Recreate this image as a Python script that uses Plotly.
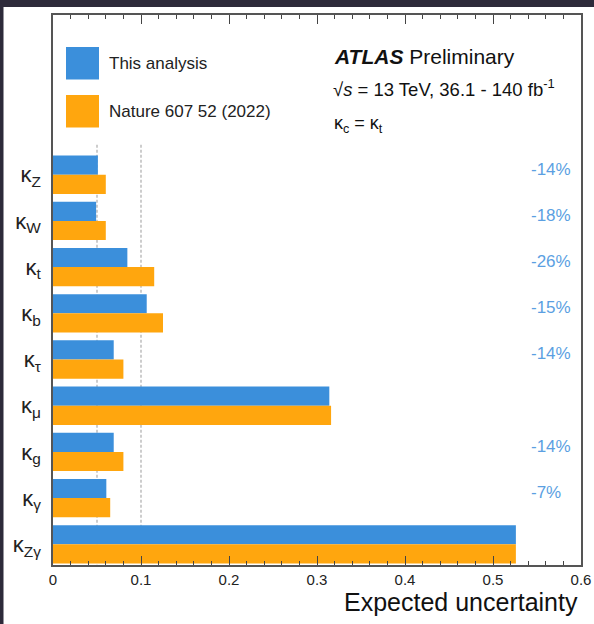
import plotly.graph_objects as go

# couplings, top to bottom
labels = ["κ<sub>Z</sub>", "κ<sub>W</sub>", "κ<sub>t</sub>", "κ<sub>b</sub>", "κ<sub>τ</sub>",
          "κ<sub>μ</sub>", "κ<sub>g</sub>", "κ<sub>γ</sub>", "κ<sub>Zγ</sub>"]
this_analysis = [0.051, 0.049, 0.0845, 0.1065, 0.069, 0.314, 0.069, 0.0606, 0.526]
nature_2022 = [0.060, 0.060, 0.115, 0.125, 0.080, 0.316, 0.080, 0.065, 0.526]
improvement = ["-14%", "-18%", "-26%", "-15%", "-14%", "", "-14%", "-7%", ""]
ref_lines = [0.05, 0.1]

BLUE = "#3b8fdb"
ORANGE = "#ffa60e"
FONT = "Liberation Sans, Arial, sans-serif"

pos = list(range(len(labels)))

fig = go.Figure()
fig.add_trace(go.Bar(y=pos, x=this_analysis, orientation="h", name="This analysis",
                     marker=dict(color=BLUE, line=dict(width=0))))
fig.add_trace(go.Bar(y=pos, x=nature_2022, orientation="h", name="Nature 607 52 (2022)",
                     marker=dict(color=ORANGE, line=dict(width=0))))

# dashed reference lines
for v in ref_lines:
    fig.add_shape(type="line", xref="x", yref="y", x0=v, x1=v, y0=-0.65, y1=8.45,
                  line=dict(color="#bdbdbd", width=1.5, dash="3px,2px"), layer="below")

# relative improvement labels
for i, t in enumerate(improvement):
    if t:
        fig.add_annotation(x=0.541, y=i - 0.12, xref="x", yref="y", text=t, showarrow=False,
                           xanchor="left", yanchor="middle",
                           font=dict(family=FONT, size=17, color="#5b9fe2"))


def px(x):
    return (x - 53) / 528


def py(y):
    return (565 - y) / 550


def note(x, y, text, size, **kw):
    fig.add_annotation(x=px(x), y=py(y), xref="paper", yref="paper", text=text,
                       showarrow=False, xanchor=kw.get("xanchor", "left"), yanchor="middle",
                       font=dict(family=FONT, size=size, color=kw.get("color", "#111")))


# legend built by hand
for (y0, y1), col, name in [((47, 79.5), BLUE, "This analysis"),
                            ((95, 127.5), ORANGE, "Nature 607 52 (2022)")]:
    fig.add_shape(type="rect", xref="paper", yref="paper", x0=px(66), x1=px(99),
                  y0=py(y1), y1=py(y0), fillcolor=col, line=dict(width=0))
    note(107, (y0 + y1) / 2, name, 17, color="#222")

note(332, 56, "<b><i>ATLAS</i></b> Preliminary", 21)
note(331, 88, "√<i>s</i> = 13 TeV, 36.1 - 140 fb<sup>-1</sup>", 18.5)
note(332, 124, "κ<sub>c</sub> = κ<sub>t</sub>", 18)
note(580, 602, "Expected uncertainty", 25, xanchor="right")

# dark strips at the top and left edge of the screenshot
fig.add_shape(type="rect", xref="paper", yref="paper", x0=px(0), x1=px(3.5), y0=py(624), y1=py(0),
              fillcolor="#2d2a3a", line=dict(width=0))
fig.add_shape(type="rect", xref="paper", yref="paper", x0=px(0), x1=px(594), y0=py(7), y1=py(0),
              fillcolor="#2d2a3a", line=dict(width=0))

fig.update_layout(
    width=594, height=624,
    margin=dict(l=53, r=13, t=15, b=59),
    paper_bgcolor="white", plot_bgcolor="white",
    barmode="group", bargap=0.17, bargroupgap=0,
    showlegend=False,
    font=dict(family=FONT, color="#222"),
)
fig.update_xaxes(range=[0, 0.6], dtick=0.1, tick0=0, ticks="inside", ticklen=9, tickwidth=1,
                 tickcolor="#444", showline=True, linecolor="#555", linewidth=1.5, mirror="ticks",
                 showgrid=False, zeroline=False, tickfont=dict(size=15, color="#222"),
                 automargin=False,
                 minor=dict(dtick=0.02, ticks="inside", ticklen=4, tickcolor="#444"))
fig.update_yaxes(range=[8.448, -3.457], tickvals=pos, ticktext=labels, ticks="",
                 showline=True, linecolor="#555", linewidth=1.5, mirror=True, showgrid=False,
                 zeroline=False, tickfont=dict(size=22, color="#222"), ticklabelstandoff=6,
                 automargin=False)

# the page's default body margin would shift the figure by 8px
fig.write_html("out.html", config={"displayModeBar": False},
               post_script="document.body.style.margin='0';")
